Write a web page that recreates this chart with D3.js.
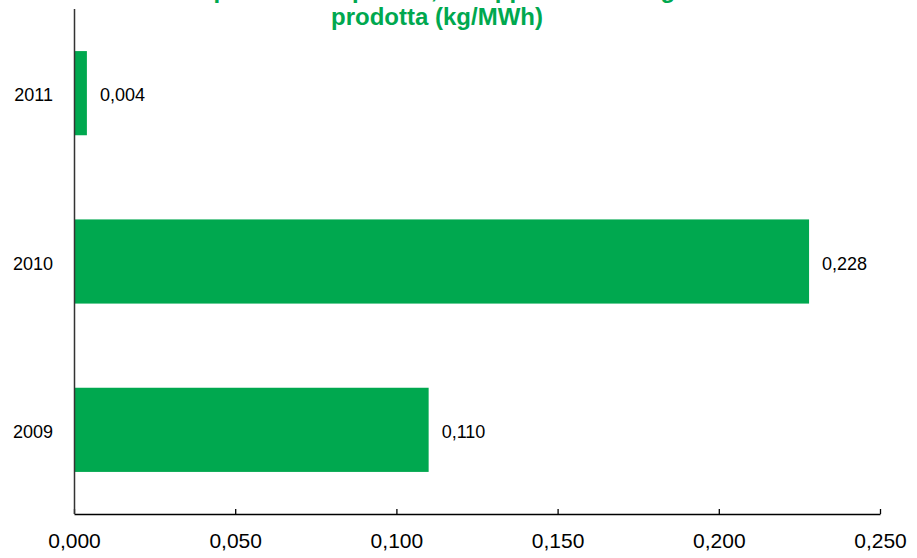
<!DOCTYPE html>
<html>
<head>
<meta charset="utf-8">
<script src="https://cdn.jsdelivr.net/npm/d3@7"></script>
<style>
  html, body { margin: 0; padding: 0; background: #fff; }
  svg { display: block; font-family: "Liberation Sans", Arial, sans-serif; }
</style>
</head>
<body>
<svg id="chart" width="917" height="558"></svg>
<script>
// Specific dust emissions per unit of energy produced
const years = ["2011", "2010", "2009"];
const values = [0.004, 0.228, 0.110];
const xTicks = [0, 0.05, 0.10, 0.15, 0.20, 0.25];
const titleLines = ["Emissioni specifiche di polveri, in rapporto all'energia elettrica", "prodotta (kg/MWh)"];

const green = "#00A84F";
const fmt = v => d3.format(".3f")(v).replace(".", ",");

const svg = d3.select("#chart");
const margin = { left: 74, right: 37, top: 9, bottom: 44 };
const W = 917, H = 558;

const x = d3.scaleLinear().domain([0, 0.25]).range([margin.left, W - margin.right]);
const y = d3.scaleBand().domain(years).range([margin.top, H - margin.bottom]).paddingInner(0.5).paddingOuter(0.25);

// bars
svg.append("g").selectAll("rect")
  .data(years.map((k, i) => ({ k, v: values[i] })))
  .join("rect")
  .attr("x", x(0))
  .attr("y", d => y(d.k))
  .attr("width", d => x(d.v) - x(0))
  .attr("height", y.bandwidth())
  .attr("fill", green);

// value labels
svg.append("g").selectAll("text")
  .data(years.map((k, i) => ({ k, v: values[i] })))
  .join("text")
  .attr("x", d => x(d.v) + 13)
  .attr("y", d => y(d.k) + y.bandwidth() / 2)
  .attr("dy", "0.45em")
  .attr("font-size", 18)
  .attr("fill", "#000")
  .text(d => fmt(d.v));

// x axis with inward ticks
const xAxis = svg.append("g")
  .attr("transform", `translate(0,${H - margin.bottom})`)
  .call(d3.axisBottom(x).tickValues(xTicks).tickSize(-5).tickSizeOuter(0).tickPadding(19).tickFormat(fmt));
xAxis.select(".domain").attr("stroke", "#000").attr("stroke-width", 1.5);
xAxis.selectAll(".tick line").attr("stroke", "#000").attr("stroke-width", 1.3);
xAxis.selectAll(".tick text")
  .attr("font-size", 21)
  .attr("font-family", "Liberation Sans, Arial, sans-serif")
  .attr("fill", "#000");

// y axis, categories only
const yAxis = svg.append("g")
  .attr("transform", `translate(${margin.left},0)`)
  .call(d3.axisLeft(y).tickSize(0).tickPadding(21));
yAxis.select(".domain").attr("stroke", "#333").attr("stroke-width", 1.5)
  .attr("d", `M0.5,${margin.top}V${H - margin.bottom}`);
yAxis.selectAll(".tick text")
  .attr("dy", "0.45em")
  .attr("font-size", 18)
  .attr("font-family", "Liberation Sans, Arial, sans-serif")
  .attr("fill", "#000");

// title
svg.append("g").selectAll("text")
  .data(titleLines)
  .join("text")
  .attr("x", 437)
  .attr("y", (d, i) => -2 + i * 27)
  .attr("text-anchor", "middle")
  .attr("font-size", 24)
  .attr("font-weight", "bold")
  .attr("fill", green)
  .text(d => d);
</script>
</body>
</html>
